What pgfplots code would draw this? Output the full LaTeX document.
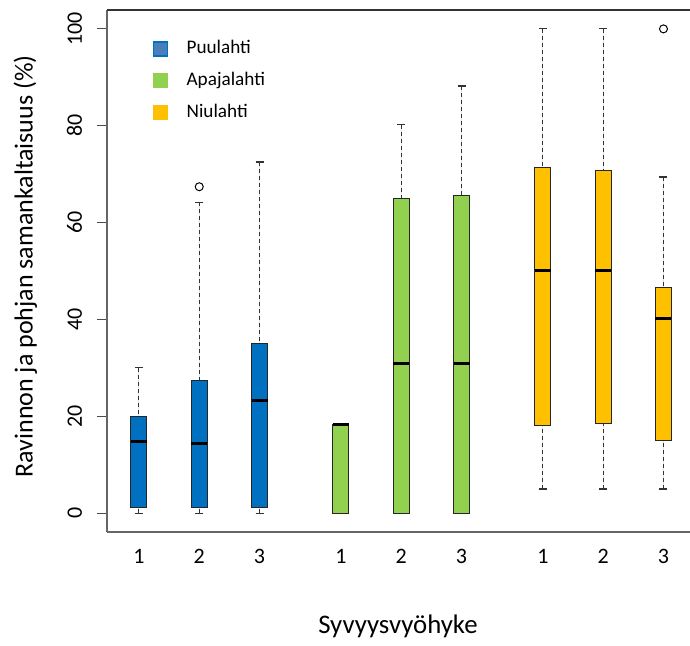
\documentclass[border=0pt]{standalone}
\usepackage{fontspec}
\setmainfont{Carlito}
\usepackage{pgfplots}
\pgfplotsset{compat=1.18}
\usepgfplotslibrary{statistics}
\definecolor{pblue}{HTML}{0070C0}
\definecolor{pgreen}{HTML}{92D050}
\definecolor{porange}{HTML}{FFC000}
\definecolor{lblue}{HTML}{4A7EBB}
\newcommand{\tickfont}{\fontsize{11}{13}\selectfont}
\newcommand{\xlabfont}{\fontsize{13.4}{15}\selectfont}
\newcommand{\ylabfont}{\fontsize{13}{15}\selectfont}
\newcommand{\legfont}{\fontsize{9.6}{11}\selectfont}
\pgfplotsset{
  boxplot/draw direction=y,
  boxplot/draw/lower whisker/.code={%
    \draw[black!80, line width=0.5pt, dash pattern=on 2pt off 1.5pt]
      (boxplot box cs:\pgfplotsboxplotvalue{lower whisker},0.5) --
      (boxplot box cs:\pgfplotsboxplotvalue{lower quartile},0.5);
    \draw[black!80, line width=0.6pt]
      (boxplot whisker cs:\pgfplotsboxplotvalue{lower whisker},0) --
      (boxplot whisker cs:\pgfplotsboxplotvalue{lower whisker},1);
  },
  boxplot/draw/upper whisker/.code={%
    \draw[black!80, line width=0.5pt, dash pattern=on 2pt off 1.5pt]
      (boxplot box cs:\pgfplotsboxplotvalue{upper whisker},0.5) --
      (boxplot box cs:\pgfplotsboxplotvalue{upper quartile},0.5);
    \draw[black!80, line width=0.6pt]
      (boxplot whisker cs:\pgfplotsboxplotvalue{upper whisker},0) --
      (boxplot whisker cs:\pgfplotsboxplotvalue{upper whisker},1);
  },
  boxplot/every median/.style={line width=1.5pt, black},
  bx/.style={boxplot prepared={draw position=#1, box extend=0.265, whisker extend=0.133},
    draw=black!85, line width=0.5pt, solid, mark=o, mark size=2pt,
    mark options={black, line width=0.5pt}, forget plot},
}
\begin{document}
\begin{tikzpicture}
\begin{axis}[
  at={(0,0)}, anchor=south west,
  scale only axis, width=291.5pt, height=261pt,
  xmin=0.47, xmax=10.14, ymin=-3.9, ymax=103.9,
  axis line style={draw=none},
  xtick={1,2,3,4.35,5.35,6.35,7.7,8.7,9.7},
  xticklabels={1,2,3,1,2,3,1,2,3},
  x tick style={draw=none},
  ytick={0,20,40,60,80,100},
  ytick pos=left, tick align=outside,
  major tick length=5pt,
  y tick style={black!70, line width=0.5pt},
  /pgf/number format/assume math mode=true,
  xticklabel style={font=\tickfont, anchor=base, yshift=-11pt},
  yticklabel style={font=\tickfont, rotate=90, anchor=base, yshift=7.5pt},
  xlabel={\xlabfont Syvyysvyöhyke},
  ylabel={\ylabfont Ravinnon ja pohjan samankaltaisuus (\%)},
  every axis x label/.style={at={(rel axis cs:0.499,-0.195)}, anchor=base, font=\xlabfont},
  every axis y label/.style={at={(rel axis cs:-0.161,0.509)}, rotate=90, anchor=north, font=\ylabfont, inner sep=0pt},
  legend style={draw=none, fill=none, at={(rel axis cs:0.069,0.955)}, anchor=north west,
    font=\legfont, row sep=5pt,
    nodes={inner sep=1pt, text height=7pt, text depth=2pt},
    /tikz/every odd column/.append style={column sep=8.5pt}},
  legend cell align=left,
]
\addlegendimage{only marks, mark=square*, mark size=3.5pt, mark options={fill=lblue, draw=pblue, line width=0.8pt}}
\addlegendentry{\legfont Puulahti}
\addlegendimage{only marks, mark=square*, mark size=3.5pt, mark options={fill=pgreen, draw=pgreen}}
\addlegendentry{\legfont Apajalahti}
\addlegendimage{only marks, mark=square*, mark size=3.5pt, mark options={fill=porange, draw=porange}}
\addlegendentry{\legfont Niulahti}
% Puulahti
\addplot[bx=1, fill=pblue, boxplot prepared={lower whisker=0, lower quartile=1.2, median=14.8, upper quartile=20, upper whisker=30}] coordinates {};
\addplot[bx=2, fill=pblue, boxplot prepared={lower whisker=0, lower quartile=1.2, median=14.3, upper quartile=27.3, upper whisker=64.2}] coordinates {(0,67.4)};
\addplot[bx=3, fill=pblue, boxplot prepared={lower whisker=0, lower quartile=1.2, median=23.2, upper quartile=35.1, upper whisker=72.5}] coordinates {};
% Apajalahti
\addplot[bx=4.35, fill=pgreen, boxplot prepared={lower whisker=0, lower quartile=0, median=18.25, upper quartile=18.25, upper whisker=18.25}] coordinates {};
\addplot[bx=5.35, fill=pgreen, boxplot prepared={lower whisker=0, lower quartile=0, median=30.8, upper quartile=64.9, upper whisker=80.2}] coordinates {};
\addplot[bx=6.35, fill=pgreen, boxplot prepared={lower whisker=0, lower quartile=0, median=30.8, upper quartile=65.6, upper whisker=88.2}] coordinates {};
% Niulahti
\addplot[bx=7.7, fill=porange, boxplot prepared={lower whisker=5, lower quartile=18.0, median=50.1, upper quartile=71.4, upper whisker=100}] coordinates {};
\addplot[bx=8.7, fill=porange, boxplot prepared={lower whisker=5, lower quartile=18.5, median=50.1, upper quartile=70.8, upper whisker=100}] coordinates {};
\addplot[bx=9.7, fill=porange, boxplot prepared={lower whisker=5, lower quartile=15.0, median=40.1, upper quartile=46.6, upper whisker=69.4}] coordinates {(0,100)};
\end{axis}
\draw[black!60, line width=0.6pt] (0,0) -- (291.5pt,0);
\draw[black!60, line width=0.6pt] (0,0) -- (0,261pt);
\draw[black!80, line width=0.6pt] (0,261pt) -- (291.5pt,261pt);
\pgfresetboundingbox
\path (-53.5pt,-57pt) rectangle (291.5pt,266pt);
\end{tikzpicture}
\end{document}
